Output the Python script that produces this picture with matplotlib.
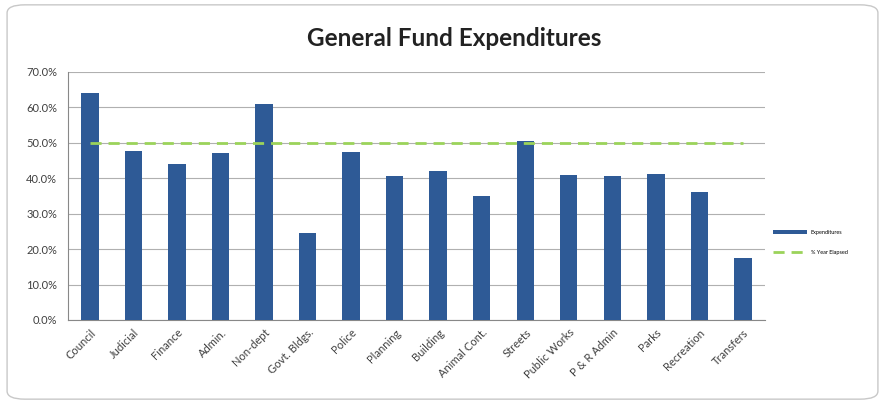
import matplotlib
matplotlib.use("Agg")
import matplotlib.pyplot as plt
from matplotlib.patches import FancyBboxPatch
from matplotlib.ticker import FuncFormatter, MultipleLocator

categories = ["Council", "Judicial", "Finance", "Admin.", "Non-dept", "Govt. Bldgs.",
              "Police", "Planning", "Building", "Animal Cont.", "Streets", "Public Works",
              "P & R Admin", "Parks", "Recreation", "Transfers"]
expenditures = [64.0, 47.8, 44.0, 47.2, 61.0, 24.5, 47.5, 40.5, 42.0, 35.0, 50.5, 41.0,
                40.5, 41.2, 36.0, 17.5]
year_elapsed = [50.0] * len(categories)

plt.rcParams['font.family'] = ['Lato', 'DejaVu Sans']

fig = plt.figure(figsize=(8.85, 4.04), dpi=100)
fig.patch.set_facecolor("white")
border = FancyBboxPatch((0.008, 0.012), 0.984, 0.976, boxstyle="round,pad=0,rounding_size=0.02",
                        transform=fig.transFigure, facecolor="none", edgecolor="#c8c8c8", lw=1.0)
fig.patches.append(border)

ax = fig.add_axes([0.077, 0.208, 0.787, 0.614])
x = list(range(len(categories)))
bars = ax.bar(x, [v / 100 for v in expenditures], width=0.4, color="#2E5A96", zorder=3,
              label="Expenditures")
line, = ax.plot(x, [v / 100 for v in year_elapsed], color="#9BD35A", lw=2, dashes=(4, 2.5),
                zorder=4, label="% Year Elapsed")

ax.set_xlim(-0.5, len(categories) - 0.5)
ax.set_ylim(0, 0.70)
ax.yaxis.set_major_locator(MultipleLocator(0.10))
ax.yaxis.set_major_formatter(FuncFormatter(lambda v, p: f"{v*100:.1f}%"))
ax.grid(axis="y", color="#b0b0b0", lw=0.8, zorder=0)
ax.set_xticks(x)
ax.set_xticklabels(categories, rotation=45, ha="right", rotation_mode="anchor",
                   fontsize=8, color="#404040")
ax.tick_params(axis="y", labelsize=8, labelcolor="#404040", length=0, pad=8)
ax.tick_params(axis="x", length=0, pad=5)
for s in ["top", "right"]:
    ax.spines[s].set_visible(False)
ax.spines["left"].set_color("#888888")
ax.spines["bottom"].set_color("#888888")

fig.text(0.513, 0.905, "General Fund Expenditures", ha="center", va="center",
         fontsize=17.5, fontweight="bold", color="#222222")

fig.legend([bars, line], ["Expenditures", "% Year Elapsed"], loc="center left",
           bbox_to_anchor=(0.868, 0.40), frameon=False, fontsize=4,
           handlelength=6, labelspacing=2.8)

fig.savefig("out.png", dpi=100, facecolor="white")
